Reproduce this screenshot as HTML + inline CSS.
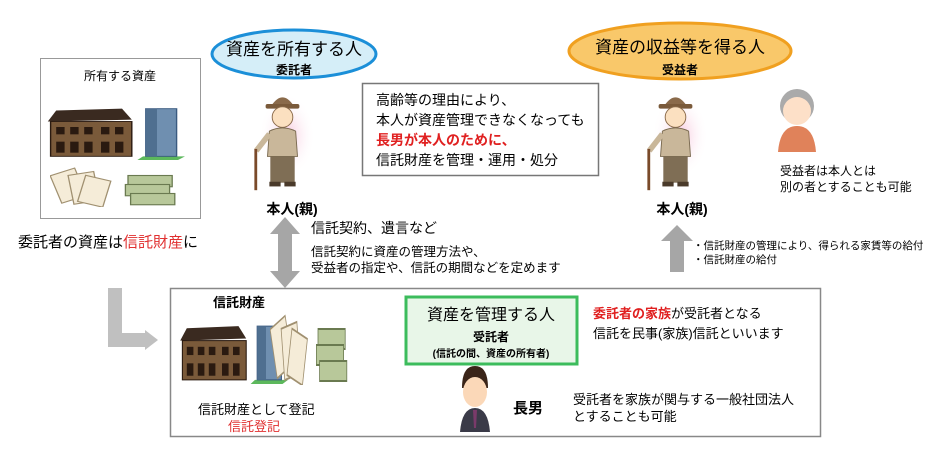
<!DOCTYPE html>
<html><head><meta charset="utf-8"><style>
body{margin:0;width:938px;height:461px;background:#fff;overflow:hidden;font-family:"Liberation Sans","Noto Sans CJK JP",sans-serif;}
svg text{font-family:"Liberation Sans","Noto Sans CJK JP",sans-serif;}
</style></head><body>
<svg width="938" height="461" viewBox="0 0 938 461" xmlns="http://www.w3.org/2000/svg">
<defs>
<radialGradient id="pink" cx="50%" cy="50%" r="50%"><stop offset="0" stop-color="#f7c6dc"/><stop offset="1" stop-color="#fff" stop-opacity="0"/></radialGradient>
<symbol id="man" viewBox="0 0 80 110">
<ellipse cx="45" cy="50" rx="30" ry="45" fill="url(#pink)"/>
<path d="M28 18 Q40 0 52 18 Z" fill="#8a6a4a"/><rect x="22" y="16" width="36" height="5" rx="2" fill="#7a5a3a"/>
<circle cx="40" cy="30" r="11" fill="#fbe0c0" stroke="#8a6a4a"/>
<path d="M26 45 Q40 38 54 45 L56 72 L24 72 Z" fill="#c9b79a" stroke="#7a6a50"/>
<path d="M26 48 L12 66" stroke="#c9b79a" stroke-width="6"/>
<rect x="27" y="72" width="26" height="28" fill="#7f6e55"/>
<rect x="26" y="99" width="12" height="5" fill="#4a3a2a"/><rect x="42" y="99" width="12" height="5" fill="#4a3a2a"/>
<rect x="10" y="64" width="3" height="44" fill="#7a4a2a"/>
</symbol>
<symbol id="bldg" viewBox="0 0 100 60" preserveAspectRatio="none">
<path d="M2 18 L8 6 L55 4 L62 16 Z" fill="#3a2a20"/>
<rect x="4" y="18" width="58" height="38" fill="#7a5a3a" stroke="#2a1a10"/>
<g fill="#2a1a10"><rect x="8" y="24" width="6" height="8"/><rect x="18" y="24" width="6" height="8"/><rect x="28" y="24" width="6" height="8"/><rect x="40" y="24" width="6" height="8"/><rect x="50" y="24" width="6" height="8"/>
<rect x="8" y="40" width="6" height="12"/><rect x="18" y="40" width="6" height="12"/><rect x="28" y="40" width="6" height="12"/><rect x="40" y="40" width="6" height="12"/><rect x="50" y="40" width="6" height="12"/></g>
<polygon points="70,56 100,56 95,60 66,60" fill="#5cb85c"/>
<rect x="72" y="4" width="22" height="52" fill="#6f8fb0" stroke="#3a5a80"/><rect x="72" y="4" width="8" height="52" fill="#4f6f90"/>
</symbol>
<symbol id="money" viewBox="0 0 100 40" preserveAspectRatio="none">
<g fill="#f5ecd8" stroke="#a09070"><rect x="4" y="8" width="20" height="26" transform="rotate(-20 14 21)"/><rect x="16" y="10" width="20" height="26" transform="rotate(-10 26 23)"/><rect x="24" y="14" width="20" height="24" transform="rotate(15 34 26)"/></g>
<g fill="#b8c89a" stroke="#6a7a50"><rect x="60" y="12" width="34" height="10"/><rect x="58" y="20" width="34" height="10"/><rect x="62" y="28" width="34" height="10"/></g>
</symbol>
</defs>

<rect x="40.5" y="58.5" width="160" height="160" fill="#fff" stroke="#999"/>
<text x="120" y="80" font-size="12" text-anchor="middle">所有する資産</text>
<use href="#bldg" x="45" y="105" width="140" height="55"/>
<use href="#money" x="50" y="162" width="130" height="45"/>
<text x="18" y="247" font-size="15">委託者の資産は<tspan fill="#e03030">信託財産</tspan>に</text>

<ellipse cx="294" cy="54" rx="82" ry="24" fill="#d5eef8" stroke="#1b8fd8" stroke-width="3"/>
<text x="294" y="55" font-size="17" text-anchor="middle">資産を所有する人</text>
<text x="294" y="74" font-size="12" font-weight="bold" text-anchor="middle">委託者</text>
<use href="#man" x="245" y="88" width="75" height="105"/>
<text x="292" y="214" font-size="14" font-weight="bold" text-anchor="middle">本人(親)</text>

<rect x="362.5" y="83.5" width="236" height="92" fill="#fff" stroke="#777" stroke-width="1.5"/>
<text x="376" y="105" font-size="14">高齢等の理由により、</text>
<text x="376" y="125" font-size="14">本人が資産管理できなくなっても</text>
<text x="376" y="145" font-size="14" fill="#e02020" font-weight="bold">長男が本人のために、</text>
<text x="376" y="165" font-size="14">信託財産を管理・運用・処分</text>

<polygon points="285,217 300,234 292,234 292,271 300,271 285,288 270,271 278,271 278,234 270,234" fill="#a6a6a6"/>
<text x="311" y="233" font-size="14">信託契約、遺言など</text>
<text x="311" y="256" font-size="12.5">信託契約に資産の管理方法や、</text>
<text x="311" y="272" font-size="12.5">受益者の指定や、信託の期間などを定めます</text>

<ellipse cx="680" cy="51" rx="111" ry="28" fill="#f9c86a" stroke="#f0a020" stroke-width="3"/>
<text x="680" y="53" font-size="17" text-anchor="middle">資産の収益等を得る人</text>
<text x="680" y="74" font-size="12" font-weight="bold" text-anchor="middle">受益者</text>
<use href="#man" x="638" y="88" width="75" height="105"/>
<text x="682" y="214" font-size="14" font-weight="bold" text-anchor="middle">本人(親)</text>
<circle cx="797" cy="106" r="17" fill="#aaa"/><circle cx="797" cy="111" r="14" fill="#fde0c8"/>
<path d="M778 152 Q780 126 797 126 Q814 126 816 152 Z" fill="#e0825a"/>
<text x="780" y="175" font-size="12">受益者は本人とは</text>
<text x="780" y="191" font-size="12">別の者とすることも可能</text>

<polygon points="677,225 693,241 684,241 684,272 670,272 670,241 661,241" fill="#a6a6a6"/>
<text x="693" y="249" font-size="10.5">・信託財産の管理により、得られる家賃等の給付</text>
<text x="693" y="263" font-size="10.5">・信託財産の給付</text>

<path d="M115 288 V340 H146" fill="none" stroke="#c0c0c0" stroke-width="14"/>
<polygon points="145,330 158,340 145,350" fill="#c0c0c0"/>

<rect x="170.5" y="288.5" width="650" height="148" fill="#fff" stroke="#888" stroke-width="1.5"/>
<text x="213" y="307" font-size="13" font-weight="bold">信託財産</text>
<use href="#bldg" x="178" y="322" width="110" height="62"/>
<use href="#money" x="270" y="305" width="80" height="80"/>
<text x="198" y="414" font-size="13">信託財産として登記</text>
<text x="228" y="431" font-size="13" fill="#e03030">信託登記</text>

<rect x="406" y="297" width="171" height="67" fill="#e8f6e8" stroke="#3cbc5c" stroke-width="3"/>
<text x="491" y="320" font-size="16" text-anchor="middle">資産を管理する人</text>
<text x="491" y="341" font-size="12" font-weight="bold" text-anchor="middle">受託者</text>
<text x="491" y="357" font-size="10" font-weight="bold" text-anchor="middle">(信託の間、資産の所有者)</text>

<text x="593" y="318" font-size="13"><tspan fill="#e02020" font-weight="bold">委託者の家族</tspan>が受託者となる</text>
<text x="593" y="338" font-size="13">信託を民事(家族)信託といいます</text>

<path d="M462 388 Q462 366 475 366 Q488 366 488 388 Z" fill="#3a2418"/>
<ellipse cx="475" cy="392" rx="12" ry="15" fill="#fbd8b8"/>
<path d="M460 432 Q462 408 475 408 Q488 408 490 432 Z" fill="#3a3a48"/>
<polygon points="473,410 477,410 476,428 474,428" fill="#7a3a6a"/>
<text x="513" y="413" font-size="15" font-weight="bold">長男</text>
<text x="573" y="404" font-size="13">受託者を家族が関与する一般社団法人</text>
<text x="573" y="421" font-size="13">とすることも可能</text>
</svg>
</body></html>
